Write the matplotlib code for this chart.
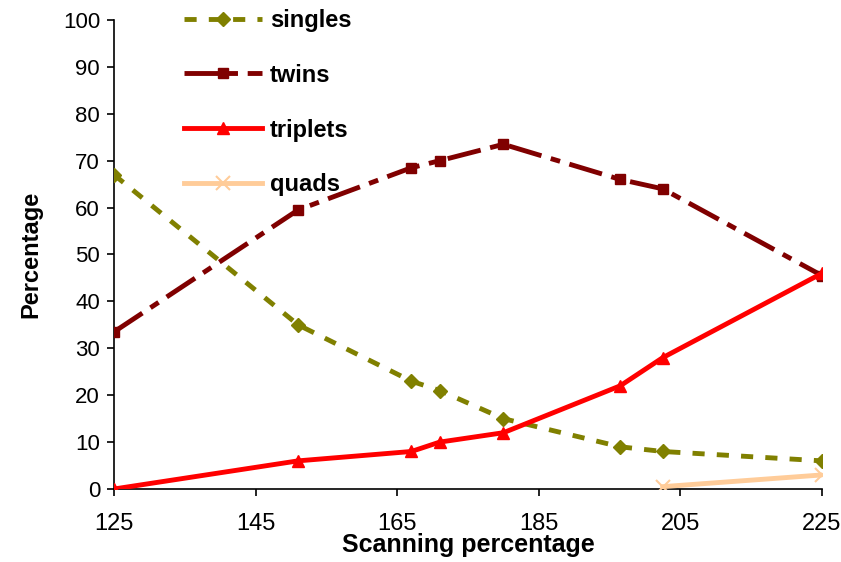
import matplotlib
matplotlib.use("Agg")
import matplotlib.pyplot as plt

# scanning percentage at each measurement
scan = [125, 151, 167, 171, 180, 196.5, 202.5, 225]

singles = [67, 35, 23, 21, 15, 9, 8, 6]
twins = [33.5, 59.5, 68.5, 70, 73.5, 66, 64, 45.5]
triplets = [0, 6, 8, 10, 12, 22, 28, 46]

# quads only show up at the top end
quad_scan = [202.5, 225]
quads = [0.5, 3]

xticks = [125, 145, 165, 185, 205, 225]
yticks = list(range(0, 101, 10))

plt.rcParams['font.family'] = ['Liberation Sans', 'DejaVu Sans']

fig = plt.figure(figsize=(8.41, 5.62), dpi=100)
ax = fig.add_axes([114/841, 1 - 489/562, (822 - 114)/841, (489 - 20)/562])

lw = 3.5
ax.plot(scan, singles, color='#808000', lw=lw, dashes=(2.5, 2.5),
        marker='D', ms=7.5, label='singles', zorder=3)
ax.plot(scan, twins, color='#800000', lw=lw, dashes=(7, 2, 2, 2),
        marker='s', ms=7, label='twins', zorder=3)
ax.plot(scan, triplets, color='#ff0000', lw=lw,
        marker='^', ms=9, label='triplets', zorder=4)
ax.plot(quad_scan, quads, color='#ffcc99', lw=lw,
        marker='x', ms=10, mew=1.5, label='quads', zorder=4)

ax.set_xlim(125, 225)
ax.set_ylim(0, 100)
ax.set_xticks(xticks)
ax.set_yticks(yticks)
ax.tick_params(axis='y', labelsize=16, pad=5)
ax.tick_params(axis='x', labelsize=17, pad=12)
ax.tick_params(direction='out', length=5, width=1.2)
for s in ['top', 'right']:
    ax.spines[s].set_visible(False)
for s in ['left', 'bottom']:
    ax.spines[s].set_linewidth(1.2)

ax.set_xlabel('Scanning percentage', fontsize=18, fontweight='bold',
              labelpad=-1)
ax.set_ylabel('Percentage', fontsize=17, fontweight='bold', labelpad=15)

leg = fig.legend(loc='upper left', bbox_to_anchor=(172/841, 1 + 3/562),
                 frameon=False, borderpad=0, handlelength=3.3,
                 handletextpad=0.35, labelspacing=1.35,
                 prop={'size': 17, 'weight': 'bold'})

fig.savefig('out.png', dpi=100)
